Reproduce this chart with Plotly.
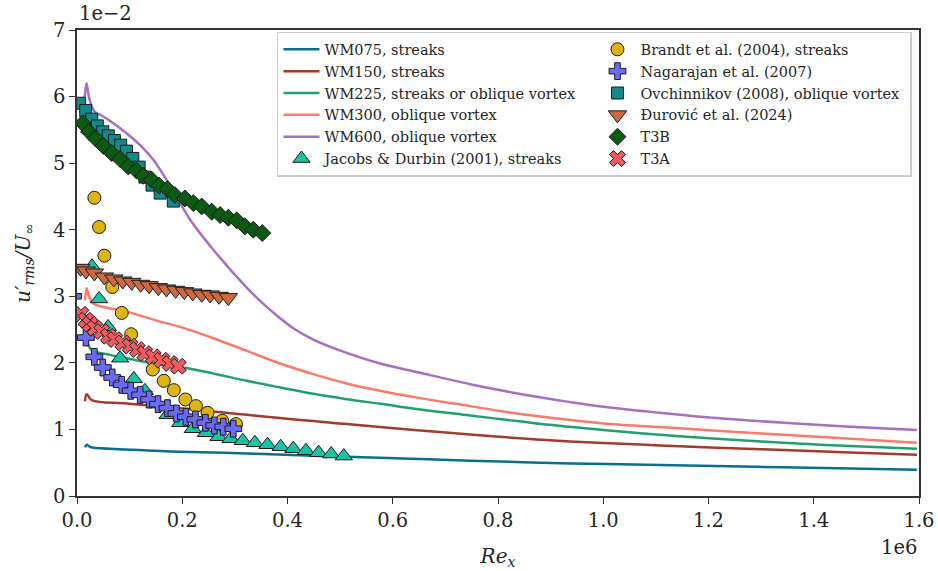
import plotly.graph_objects as go

# Re_x in units of 1e6, u'_rms/U_inf in units of 1e-2

# Wall-modelled simulations (lines)
wm075_x = [0.0152, 0.0184, 0.024, 0.031, 0.094, 0.196, 0.3225, 0.449, 0.576, 0.652, 0.747, 0.937, 1.108, 1.342, 1.596]
wm075_y = [0.73, 0.77, 0.74, 0.725, 0.70, 0.665, 0.64, 0.605, 0.575, 0.555, 0.53, 0.49, 0.465, 0.43, 0.395]

wm150_x = [0.0152, 0.0184, 0.028, 0.094, 0.196, 0.259, 0.3225, 0.386, 0.449, 0.5125, 0.576, 0.652, 0.747, 0.81,
           0.8735, 0.937, 1.0, 1.108, 1.2155, 1.342, 1.469, 1.596]
wm150_y = [1.42, 1.53, 1.44, 1.39, 1.32, 1.27, 1.22, 1.17, 1.125, 1.08, 1.035, 0.985, 0.925, 0.885,
           0.85, 0.82, 0.795, 0.76, 0.725, 0.69, 0.655, 0.62]

wm225_x = [0.0165, 0.021, 0.028, 0.0627, 0.0944, 0.158, 0.202, 0.259, 0.3225, 0.386, 0.449, 0.5125, 0.576, 0.652,
           0.747, 0.81, 0.8735, 0.937, 1.0, 1.108, 1.2155, 1.342, 1.469, 1.596]
wm225_y = [2.39, 2.28, 2.19, 2.12, 2.07, 1.97, 1.93, 1.84, 1.73, 1.63, 1.535, 1.455, 1.385, 1.30,
           1.21, 1.15, 1.09, 1.04, 0.99, 0.92, 0.86, 0.80, 0.75, 0.71]

wm300_x = [0.0152, 0.0184, 0.0228, 0.031, 0.0944, 0.158, 0.196, 0.259, 0.3225, 0.386, 0.449, 0.5125, 0.576, 0.652,
           0.747, 0.81, 0.8735, 0.937, 1.0, 1.108, 1.2155, 1.342, 1.469, 1.596]
wm300_y = [2.94, 3.12, 3.00, 2.89, 2.77, 2.62, 2.54, 2.37, 2.18, 1.99, 1.83, 1.69, 1.58, 1.47,
           1.35, 1.27, 1.20, 1.14, 1.09, 1.035, 0.98, 0.92, 0.86, 0.80]

wm600_x = [0.0133, 0.018, 0.022, 0.028, 0.034, 0.050, 0.069, 0.094, 0.120, 0.145, 0.170, 0.196, 0.215, 0.259,
           0.3225, 0.352, 0.386, 0.411, 0.449, 0.5125, 0.576, 0.652, 0.747, 0.81, 0.8735, 0.937, 1.0, 1.108,
           1.2155, 1.342, 1.469, 1.596]
wm600_y = [5.86, 6.20, 6.02, 5.85, 5.77, 5.70, 5.60, 5.45, 5.27, 5.05, 4.75, 4.40, 4.15, 3.70,
           3.13, 2.90, 2.67, 2.52, 2.35, 2.15, 1.99, 1.85, 1.68, 1.58, 1.49, 1.41, 1.34, 1.25,
           1.17, 1.10, 1.04, 0.99]

# Reference data (markers)
jacobs_x = [0.0285, 0.042, 0.059, 0.082, 0.108, 0.129, 0.150, 0.172, 0.196, 0.220, 0.245, 0.269, 0.292, 0.315,
            0.338, 0.362, 0.387, 0.411, 0.435, 0.459, 0.483, 0.507]
jacobs_y = [3.45, 2.96, 2.54, 2.07, 1.76, 1.58, 1.38, 1.22, 1.10, 1.01, 0.95, 0.89, 0.86, 0.83,
            0.80, 0.77, 0.74, 0.71, 0.68, 0.65, 0.63, 0.60]

brandt_x = [0.033, 0.042, 0.052, 0.067, 0.085, 0.103, 0.144, 0.165, 0.184, 0.206, 0.226, 0.248, 0.276, 0.302]
brandt_y = [4.48, 4.04, 3.61, 3.14, 2.75, 2.43, 1.90, 1.73, 1.59, 1.45, 1.35, 1.25, 1.13, 1.08]

nagarajan_x = [-0.0076, 0.017, 0.033, 0.049, 0.067, 0.085, 0.102, 0.120, 0.137, 0.154, 0.172, 0.189, 0.207,
               0.225, 0.244, 0.261, 0.278, 0.297]
nagarajan_y = [3.00, 2.38, 2.09, 1.93, 1.78, 1.67, 1.58, 1.52, 1.45, 1.38, 1.32, 1.24, 1.19,
               1.15, 1.10, 1.06, 1.04, 1.01]

ovchinnikov_x = [0.005, 0.0165, 0.028, 0.0386, 0.049, 0.0595, 0.071, 0.083, 0.094, 0.106, 0.118, 0.129,
                 0.1425, 0.158, 0.183]
ovchinnikov_y = [5.90, 5.79, 5.66, 5.56, 5.47, 5.41, 5.34, 5.27, 5.18, 5.07, 4.94, 4.79,
                 4.67, 4.55, 4.43]

durovic_x = [0.007, 0.017, 0.033, 0.052, 0.070, 0.087, 0.104, 0.121, 0.137, 0.1545, 0.170, 0.1875, 0.204,
             0.220, 0.237, 0.253, 0.270, 0.2875]
durovic_y = [3.42, 3.38, 3.35, 3.29, 3.26, 3.23, 3.21, 3.18, 3.16, 3.13, 3.11, 3.09, 3.07,
             3.05, 3.03, 3.02, 3.00, 2.98]

t3b_x = [0.011, 0.023, 0.0355, 0.050, 0.066, 0.082, 0.0975, 0.113, 0.126, 0.142, 0.156, 0.172, 0.186, 0.205,
         0.221, 0.237, 0.256, 0.272, 0.2875, 0.3035, 0.319, 0.335, 0.352]
t3b_y = [5.60, 5.47, 5.37, 5.26, 5.15, 5.06, 4.95, 4.89, 4.81, 4.75, 4.66, 4.61, 4.52, 4.47,
         4.40, 4.35, 4.27, 4.22, 4.18, 4.14, 4.05, 4.00, 3.95]

t3a_x = [0.0076, 0.017, 0.025, 0.034, 0.047, 0.0595, 0.072, 0.087, 0.101, 0.1146, 0.129, 0.145, 0.161,
         0.177, 0.1925]
t3a_y = [2.73, 2.64, 2.58, 2.52, 2.47, 2.40, 2.35, 2.30, 2.25, 2.20, 2.14, 2.09, 2.04, 1.99, 1.95]

x_ticks = [0.0, 0.2, 0.4, 0.6, 0.8, 1.0, 1.2, 1.4, 1.6]
x_ticklabels = ["0.0", "0.2", "0.4", "0.6", "0.8", "1.0", "1.2", "1.4", "1.6"]
y_ticks = [0, 1, 2, 3, 4, 5, 6, 7]
y_ticklabels = ["0", "1", "2", "3", "4", "5", "6", "7"]

FONT = "DejaVu Serif"
TEXT = "#262626"
EDGE = dict(color="#1c1c1c", width=1)

fig = go.Figure()

lines = [
    ("WM075, streaks", wm075_x, wm075_y, "#0a6f8e", 1),
    ("WM150, streaks", wm150_x, wm150_y, "#a23b2b", 3),
    ("WM225, streaks or oblique vortex", wm225_x, wm225_y, "#22a06b", 5),
    ("WM300, oblique vortex", wm300_x, wm300_y, "#fb7a6a", 7),
    ("WM600, oblique vortex", wm600_x, wm600_y, "#a66fbf", 9),
]
for name, xs, ys, color, rank in lines:
    fig.add_trace(go.Scatter(
        x=xs, y=ys, mode="lines", name=name, legendrank=rank,
        line=dict(color=color, width=2.5, shape="spline", smoothing=1.0),
    ))

markers = [
    ("Jacobs & Durbin (2001), streaks", jacobs_x, jacobs_y, "triangle-up", "#19c3a6", 15, 11),
    ("Brandt et al. (2004), streaks", brandt_x, brandt_y, "circle", "#dcb40a", 13, 2),
    ("Nagarajan et al. (2007)", nagarajan_x, nagarajan_y, "cross", "#6a6af5", 14, 4),
    ("Ovchinnikov (2008), oblique vortex", ovchinnikov_x, ovchinnikov_y, "square", "#128a8c", 12, 6),
    ("Đurović et al. (2024)", durovic_x, durovic_y, "triangle-down", "#cc6940", 16, 8),
    ("T3B", t3b_x, t3b_y, "diamond", "#0b5a12", 13, 10),
    ("T3A", t3a_x, t3a_y, "x", "#f25a5e", 14, 12),
]
for name, xs, ys, symbol, color, size, rank in markers:
    fig.add_trace(go.Scatter(
        x=xs, y=ys, mode="markers", name=name, legendrank=rank,
        marker=dict(symbol=symbol, color=color, size=size, line=EDGE),
    ))

axis_common = dict(
    showline=True, mirror=True, linecolor="#333333", linewidth=1.5,
    ticks="outside", ticklen=6, tickwidth=1.3, tickcolor="#333333",
    showgrid=False, zeroline=False, automargin=False,
    tickfont=dict(family=FONT, size=19.5, color=TEXT),
)

fig.update_layout(
    width=938, height=571,
    margin=dict(l=77, r=19, t=30, b=75),
    paper_bgcolor="white", plot_bgcolor="white",
    xaxis=dict(range=[0, 1.6], tickvals=x_ticks, ticktext=x_ticklabels,
               title=dict(text="<i>Re<sub>x</sub></i>", font=dict(family=FONT, size=20, color=TEXT),
                          standoff=18),
               **axis_common),
    yaxis=dict(range=[0, 7], tickvals=y_ticks, ticktext=y_ticklabels,
               title=dict(text="<i>u′<sub>rms</sub>/U<sub>∞</sub></i>",
                          font=dict(family=FONT, size=20, color=TEXT), standoff=17),
               **axis_common),
    legend=dict(
        orientation="h", x=0.2375, y=0.996, xanchor="left", yanchor="top",
        entrywidth=265, entrywidthmode="pixels", itemwidth=36,
        font=dict(family=FONT, size=14.5, color=TEXT),
        bgcolor="rgba(255,255,255,0.85)", bordercolor="#cccccc", borderwidth=1.5,
    ),
    annotations=[
        dict(text="1e−2", x=0, y=1, xref="paper", yref="paper", xanchor="left", yanchor="bottom",
             showarrow=False, yshift=3, font=dict(family=FONT, size=19.5, color=TEXT)),
        dict(text="1e6", x=1, y=0, xref="paper", yref="paper", xanchor="right", yanchor="top",
             showarrow=False, yshift=-38, font=dict(family=FONT, size=19.5, color=TEXT)),
    ],
)

fig.write_html("out.html")
